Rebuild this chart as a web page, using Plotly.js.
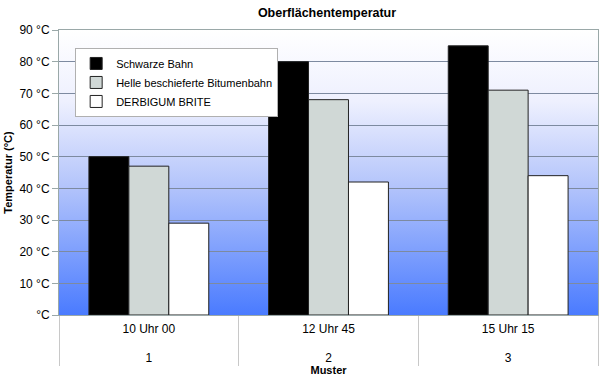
<!DOCTYPE html>
<html>
<head>
<meta charset="utf-8">
<script src="https://cdn.plot.ly/plotly-3.0.1.min.js"></script>
<style>html,body{margin:0;padding:0;background:#fff;}#chart{width:600px;height:380px;}</style>
</head>
<body>
<div id="chart"></div>
<script>
var musterOuter = ["1", "2", "3"];
var musterInner = ["10 Uhr 00", "12 Uhr 45", "15 Uhr 15"];
var seriesNames = ["Schwarze Bahn", "Helle beschieferte Bitumenbahn", "DERBIGUM BRITE"];
var schwarzeBahn = [50, 80, 85];
var helleBitumenbahn = [47, 68, 71];
var derbigumBrite = [29, 42, 44];
var yTickVals = [0, 10, 20, 30, 40, 50, 60, 70, 80, 90];
var yTickText = ["°C", "10 °C", "20 °C", "30 °C", "40 °C", "50 °C", "60 °C", "70 °C", "80 °C", "90 °C"];

var fontFam = "Liberation Sans, Arial, sans-serif";
var colors = ["#000000", "#d0d8d6", "#ffffff"];
var values = [schwarzeBahn, helleBitumenbahn, derbigumBrite];
// inner labels get an empty second line so the outer level sits lower
var innerLabels = musterInner.map(function (s) { return s + "<br> "; });

var traces = values.map(function (v, i) {
  return {
    type: "bar",
    name: seriesNames[i],
    x: [musterOuter, innerLabels],
    y: v,
    marker: { color: colors[i], line: { color: "#222222", width: 1 } },
    hoverinfo: "skip"
  };
});

var gradSvg = '<svg xmlns="http://www.w3.org/2000/svg" width="10" height="100" preserveAspectRatio="none">' +
  '<defs><linearGradient id="g" x1="0" y1="0" x2="0" y2="1">' +
  '<stop offset="0" stop-color="#ffffff"/><stop offset="0.25" stop-color="#eef0fe"/>' +
  '<stop offset="0.55" stop-color="#b3c4fb"/><stop offset="1" stop-color="#4a7bff"/>' +
  '</linearGradient></defs><rect width="10" height="100" fill="url(#g)"/></svg>';

var layout = {
  width: 600,
  height: 380,
  margin: { l: 59, r: 2, t: 30, b: 65 },
  paper_bgcolor: "#ffffff",
  plot_bgcolor: "rgba(0,0,0,0)",
  font: { family: fontFam, size: 11, color: "#000000" },
  title: {
    text: "<b>Oberflächentemperatur</b>",
    font: { family: fontFam, size: 12.5, color: "#000000" },
    x: 0.545, xanchor: "center", y: 0.968, yanchor: "middle"
  },
  barmode: "group",
  bargap: 0.333,
  bargroupgap: 0,
  showlegend: true,
  legend: {
    x: 0.03, y: 0.937, xanchor: "left", yanchor: "top",
    bgcolor: "#ffffff", bordercolor: "#b0b0b0", borderwidth: 1,
    font: { family: fontFam, size: 11, color: "#000000" },
    itemwidth: 30, tracegroupgap: 0
  },
  xaxis: {
    type: "multicategory",
    title: { text: "<b>Muster</b>", font: { family: fontFam, size: 11 }, standoff: 2 },
    showline: true, linecolor: "#9aa8a8", linewidth: 1, mirror: true,
    showdividers: true, dividercolor: "#c8c8c8", dividerwidth: 1,
    tickfont: { family: fontFam, size: 12 },
    ticklabelstandoff: 3,
    showgrid: false
  },
  yaxis: {
    range: [0, 90],
    tickvals: yTickVals,
    ticktext: yTickText,
    ticks: "outside", ticklen: 6, tickcolor: "#9aa8a8",
    showline: true, linecolor: "#9aa8a8", linewidth: 1, mirror: true,
    showgrid: true, gridcolor: "#7d8aa0", gridwidth: 1,
    zeroline: false,
    tickfont: { family: fontFam, size: 12 },
    title: { text: "<b>Temperatur (°C)</b>", font: { family: fontFam, size: 11 }, standoff: 4 }
  },
  images: [{
    source: "data:image/svg+xml;charset=utf-8," + encodeURIComponent(gradSvg),
    xref: "paper", yref: "paper", x: 0, y: 1, sizex: 1, sizey: 1,
    xanchor: "left", yanchor: "top", sizing: "stretch", layer: "below"
  }]
};

Plotly.newPlot("chart", traces, layout, { displayModeBar: false, staticPlot: true });
</script>
</body>
</html>
